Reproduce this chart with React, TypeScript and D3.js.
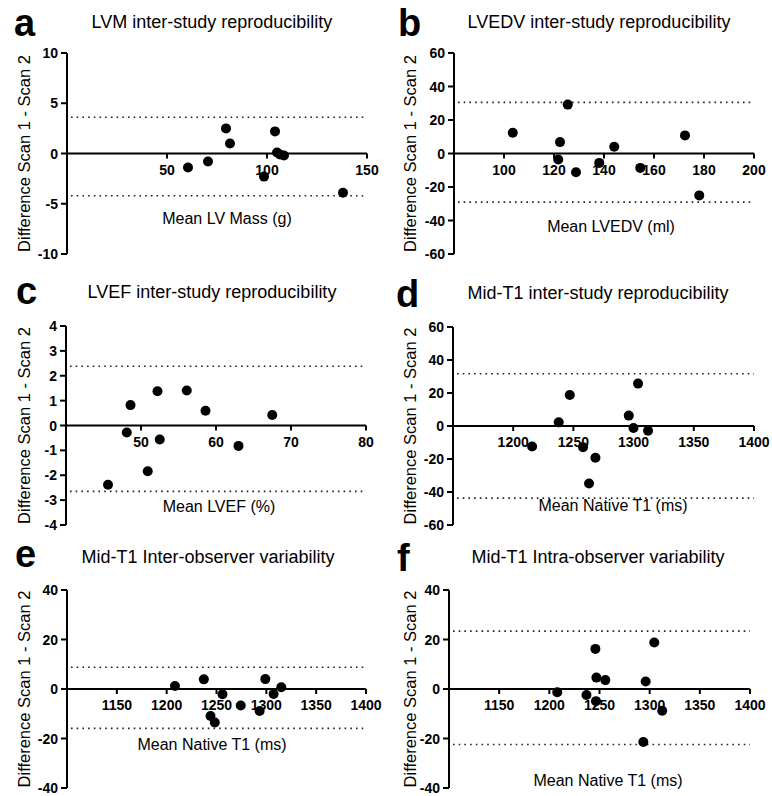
import React from "react";
import * as d3 from "d3";

// LVM inter-study
const lvmMean = [60.5, 70.5, 79.5, 81.5, 98.5, 104, 105, 106.5, 108.5, 138];
const lvmDiff = [-1.4, -0.8, 2.5, 1.0, -2.3, 2.2, 0.1, -0.1, -0.2, -3.9];
const lvmLimits = [3.6, -4.2];

// LVEDV inter-study
const lvedvMean = [103.5, 121.7, 122.4, 125.5, 128.8, 138.1, 144.1, 154.5, 172.4, 178.1];
const lvedvDiff = [12.4, -3.6, 6.8, 29.2, -11.2, -5.6, 4, -8.6, 10.8, -25];
const lvedvLimits = [30.5, -29];

// LVEF inter-study
const lvefMean = [45.6, 48.1, 48.6, 50.9, 52.2, 52.5, 56.1, 58.6, 63.0, 67.5];
const lvefDiff = [-2.38, -0.28, 0.82, -1.84, 1.38, -0.56, 1.41, 0.59, -0.82, 0.42];
const lvefLimits = [2.38, -2.65];

// Mid-T1 inter-study
const t1StudyMean = [1215.7, 1237.8, 1247, 1258, 1263, 1268.3, 1296, 1299.9, 1303.7, 1312];
const t1StudyDiff = [-12.4, 2.2, 18.8, -12.9, -34.9, -19.2, 6.3, -1.2, 25.7, -2.9];
const t1StudyLimits = [31.7, -43.7];

// Mid-T1 inter-observer
const t1InterMean = [1208.3, 1237.3, 1244, 1248.3, 1256, 1274.3, 1293.3, 1299, 1307.3, 1315];
const t1InterDiff = [1.2, 3.9, -10.9, -13.5, -2.1, -6.7, -8.9, 4, -2, 0.7];
const t1InterLimits = [8.8, -15.9];

// Mid-T1 intra-observer
const t1IntraMean = [1207.9, 1237, 1245.9, 1246.9, 1246.5, 1255.8, 1293.7, 1296, 1304.6, 1312.5];
const t1IntraDiff = [-1.3, -2.4, 16.2, 4.6, -4.9, 3.6, -21.4, 3, 18.8, -8.8];
const t1IntraLimits = [23.4, -22.4];

const letters = ["a", "b", "c", "d", "e", "f"];
const titles = [
    "LVM inter-study reproducibility",
    "LVEDV inter-study reproducibility",
    "LVEF inter-study reproducibility",
    "Mid-T1 inter-study reproducibility",
    "Mid-T1 Inter-observer variability",
    "Mid-T1 Intra-observer variability"
];
const xLabels = [
    "Mean LV Mass (g)",
    "Mean LVEDV (ml)",
    "Mean LVEF (%)",
    "Mean Native T1 (ms)",
    "Mean Native T1 (ms)",
    "Mean Native T1 (ms)"
];
const yLabel = "Difference Scan 1 - Scan 2";

const xDomains = [[0, 150], [80, 200], [40, 80], [1150, 1400], [1100, 1400], [1100, 1400]];
const xTicks = [
    [50, 100, 150],
    [100, 120, 140, 160, 180, 200],
    [50, 60, 70, 80],
    [1200, 1250, 1300, 1350, 1400],
    [1150, 1200, 1250, 1300, 1350, 1400],
    [1150, 1200, 1250, 1300, 1350, 1400]
];
const yDomains = [[-10, 10], [-60, 60], [-4, 4], [-60, 60], [-40, 40], [-40, 40]];
const yTicks = [
    [-10, -5, 0, 5, 10],
    [-60, -40, -20, 0, 20, 40, 60],
    [-4, -3, -2, -1, 0, 1, 2, 3, 4],
    [-60, -40, -20, 0, 20, 40, 60],
    [-40, -20, 0, 20, 40],
    [-40, -20, 0, 20, 40]
];
const means = [lvmMean, lvedvMean, lvefMean, t1StudyMean, t1InterMean, t1IntraMean];
const diffs = [lvmDiff, lvedvDiff, lvefDiff, t1StudyDiff, t1InterDiff, t1IntraDiff];
const limits = [lvmLimits, lvedvLimits, lvefLimits, t1StudyLimits, t1InterLimits, t1IntraLimits];

// page layout, pixels
const layout = [
    {left: 67, right: 367, top: 53, bottom: 254, titleX: 212, titleY: 28, letterX: 14, letterY: 36, labelX: 227, labelY: 224, yLabelX: 30},
    {left: 454, right: 754, top: 53, bottom: 254, titleX: 599, titleY: 28, letterX: 398, letterY: 36, labelX: 611, labelY: 232, yLabelX: 416},
    {left: 66, right: 366, top: 326, bottom: 525, titleX: 212, titleY: 298, letterX: 16, letterY: 304, labelX: 219, labelY: 512, yLabelX: 30},
    {left: 453, right: 754, top: 327, bottom: 525, titleX: 598, titleY: 299, letterX: 396, letterY: 307, labelX: 613, labelY: 511, yLabelX: 416},
    {left: 67, right: 366, top: 590, bottom: 788, titleX: 208, titleY: 563, letterX: 15, letterY: 567, labelX: 212, labelY: 750, yLabelX: 30},
    {left: 449, right: 750, top: 590, bottom: 788, titleX: 598, titleY: 563, letterX: 397, letterY: 571, labelX: 608, labelY: 786, yLabelX: 416}
];

const font = "'Liberation Sans', Arial, sans-serif";

const Panel = ({i}) => {
    const l = layout[i];
    const x = d3.scaleLinear().domain(xDomains[i]).range([l.left, l.right]);
    const y = d3.scaleLinear().domain(yDomains[i]).range([l.bottom, l.top]);
    const y0 = y(0);

    return (
        <g fontFamily={font}>
            <text x={l.letterX} y={l.letterY} fontSize={38} fontWeight="bold">{letters[i]}</text>
            <text x={l.titleX} y={l.titleY} fontSize={18} textAnchor="middle">{titles[i]}</text>
            <text
                transform={`translate(${l.yLabelX},${(l.top + l.bottom) / 2}) rotate(-90)`}
                fontSize={16.5}
                textAnchor="middle"
            >
                {yLabel}
            </text>

            {limits[i].map((v) => (
                <line
                    key={v}
                    x1={l.left + 4}
                    x2={l.right}
                    y1={y(v)}
                    y2={y(v)}
                    stroke="#222"
                    strokeWidth={1.6}
                    strokeDasharray="1.6 4.1"
                />
            ))}

            <line x1={l.left} x2={l.left} y1={l.top} y2={l.bottom} stroke="#000" strokeWidth={2} />
            {yTicks[i].map((t) => (
                <g key={t}>
                    <line x1={l.left - 6} x2={l.left} y1={y(t)} y2={y(t)} stroke="#000" strokeWidth={2} />
                    <text x={l.left - 9} y={y(t) + 5} fontSize={14} fontWeight="bold" textAnchor="end">{t}</text>
                </g>
            ))}

            <line x1={l.left} x2={l.right} y1={y0} y2={y0} stroke="#000" strokeWidth={2} />
            {xTicks[i].map((t) => (
                <g key={t}>
                    <line x1={x(t)} x2={x(t)} y1={y0} y2={y0 + 5} stroke="#000" strokeWidth={2} />
                    <text x={x(t)} y={y0 + 21} fontSize={14} fontWeight="bold" textAnchor="middle">{t}</text>
                </g>
            ))}

            <text x={l.labelX} y={l.labelY} fontSize={16} textAnchor="middle">{xLabels[i]}</text>

            {means[i].map((m, k) => (
                <circle key={k} cx={x(m)} cy={y(diffs[i][k])} r={5} fill="#000" />
            ))}
        </g>
    );
};

export default function App() {
    return (
        <svg
            width={772}
            height={796}
            style={{position: "absolute", left: 0, top: 0, background: "#fff"}}
        >
            <rect width={772} height={796} fill="#fff" />
            {letters.map((_, i) => <Panel key={i} i={i} />)}
        </svg>
    );
}
